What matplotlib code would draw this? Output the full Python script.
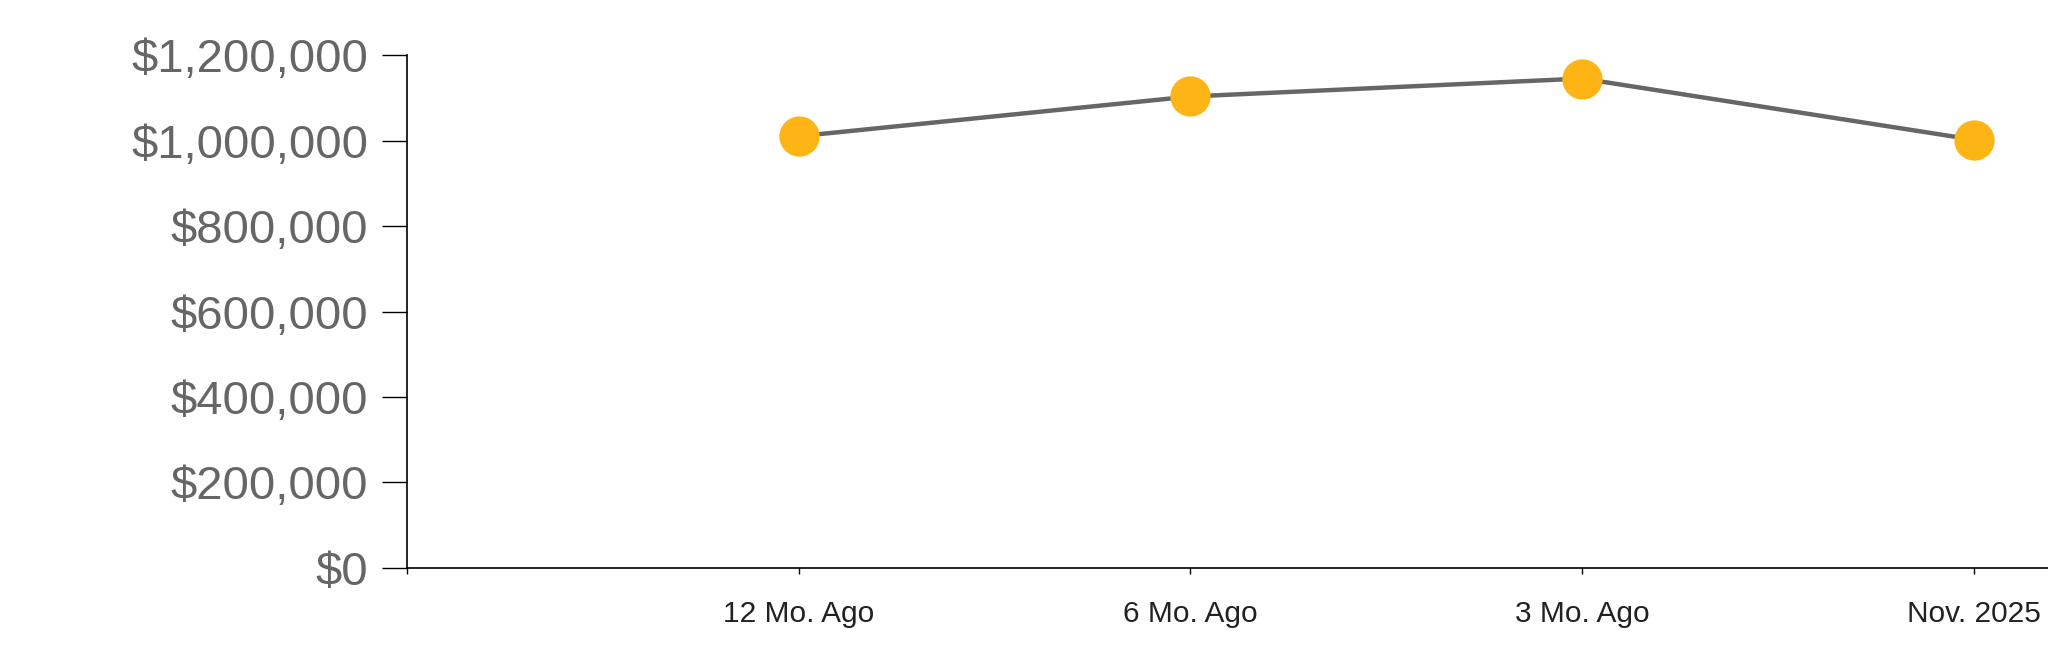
import matplotlib.pyplot as plt
from matplotlib.ticker import FuncFormatter

plt.rcParams['font.family'] = ['Liberation Sans', 'DejaVu Sans']

# valeurs
periods = ['12 Mo. Ago', '6 Mo. Ago', '3 Mo. Ago', 'Nov. 2025']
prices = [1010000, 1103000, 1145000, 1002000]
y_ticks = [0, 200000, 400000, 600000, 800000, 1000000, 1200000]

fig = plt.figure(figsize=(20.48, 6.63), dpi=100)
ax = fig.add_axes([0.1987, 0.1433, 0.8013, 0.7737])

x = list(range(1, len(periods) + 1))
ax.plot(x, prices, color='#666666', linewidth=3.2, zorder=2)
ax.plot(x, prices, 'o', color='#FDB515', markersize=29, markeredgewidth=0, zorder=3)

ax.set_xlim(0, 4.19)
ax.set_ylim(0, 1200000)
ax.set_xticks([0] + x)
ax.set_xticklabels([''] + periods)
ax.set_yticks(y_ticks)
ax.yaxis.set_major_formatter(FuncFormatter(lambda v, p: '${:,.0f}'.format(v)))

ax.spines['top'].set_visible(False)
ax.spines['right'].set_visible(False)
ax.spines['left'].set_linewidth(1.2)
ax.spines['bottom'].set_linewidth(1.2)

ax.tick_params(axis='y', length=18, width=1, pad=10, labelsize=34, labelcolor='#666666')
ax.tick_params(axis='x', length=4, width=1, pad=19, labelsize=21.5, labelcolor='#222222')

plt.savefig('out.png', dpi=100)
